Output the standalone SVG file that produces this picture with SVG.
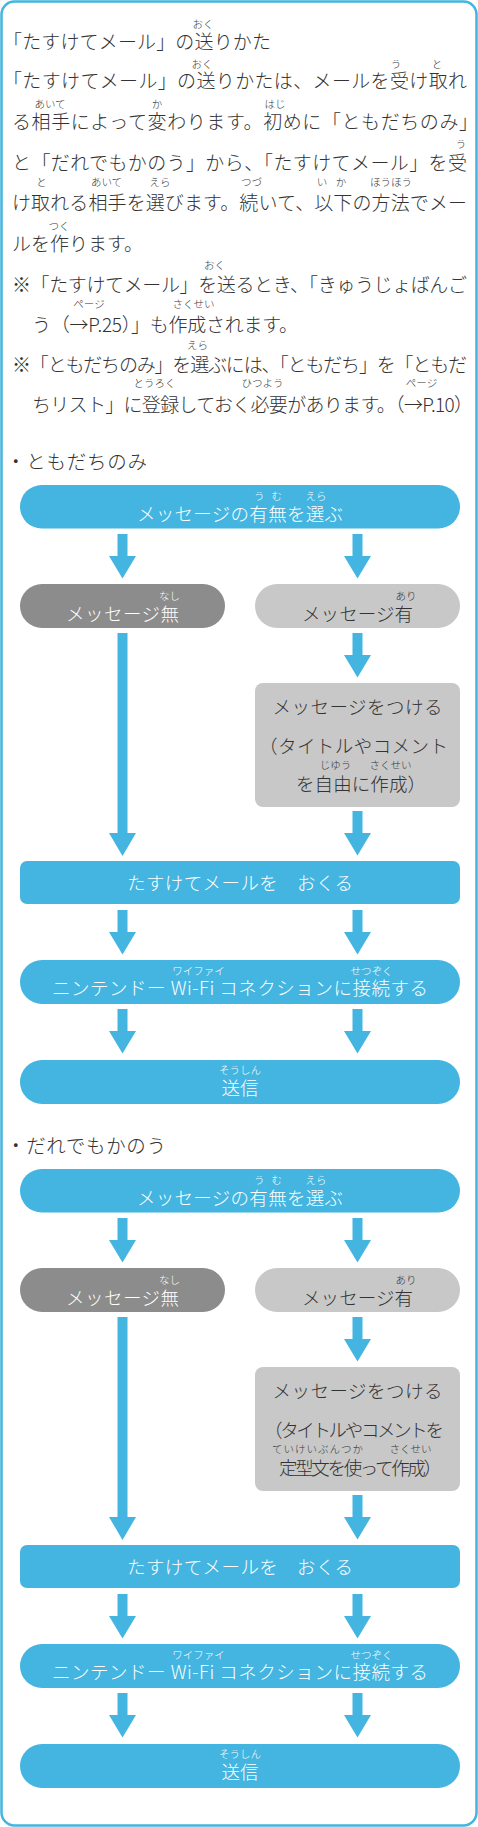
<svg xmlns="http://www.w3.org/2000/svg" width="478" height="1827" viewBox="0 0 478 1827">
<style>
text{font-family:"Noto Sans CJK JP","Noto Sans",sans-serif;font-weight:300}
.p{font-size:19px;fill:#333}
.h{font-size:19.5px;fill:#333}
.r{font-size:10.5px;fill:#333;text-anchor:middle}
.bt{font-size:18.5px;fill:#fff;text-anchor:middle}
.bd{font-size:18.5px;fill:#333;text-anchor:middle}
.bs{font-size:18.5px;fill:#333}
.rw{font-size:10.5px;fill:#fff;text-anchor:middle}
.rd{font-size:10.5px;fill:#333;text-anchor:middle}
.blue{fill:#43b5e0}
.dg{fill:#8c8c8c}
.lg{fill:#c8c8c8}
</style>
<defs>
<path id="arr" d="M-5,0 h10 v22 h8.5 l-13.5,22.5 l-13.5,-22.5 h8.5 z"/>
<path id="arrLong" d="M-5,0 h10 v200 h8.5 l-13.5,23 l-13.5,-23 h8.5 z"/>
</defs>
<rect x="1.5" y="1.5" width="475" height="1824" rx="13" fill="#fff" stroke="#43b5e0" stroke-width="2.5"/>

<g id="intro">
<text class="p" x="3" y="49" textLength="268" lengthAdjust="spacing">「たすけてメール」の送りかた</text>
<text class="r" x="203" y="28">おく</text>
<text class="p" x="3" y="88" textLength="464" lengthAdjust="spacing">「たすけてメール」の送りかたは、メールを受け取れ</text>
<text class="r" x="202" y="68">おく</text>
<text class="r" x="396" y="68">う</text>
<text class="r" x="437" y="68">と</text>
<text class="p" x="12" y="129" textLength="466" lengthAdjust="spacing">る相手によって変わります。初めに「ともだちのみ」</text>
<text class="r" x="50" y="108">あいて</text>
<text class="r" x="157" y="108">か</text>
<text class="r" x="275" y="108">はじ</text>
<text class="p" x="12" y="170" textLength="455" lengthAdjust="spacing">と「だれでもかのう」から、「たすけてメール」を受</text>
<text class="r" x="461" y="148">う</text>
<text class="p" x="12" y="210" textLength="455" lengthAdjust="spacing">け取れる相手を選びます。続いて、以下の方法でメー</text>
<text class="r" x="41.5" y="186">と</text>
<text class="r" x="106.5" y="186">あいて</text>
<text class="r" x="160" y="186">えら</text>
<text class="r" x="251.5" y="186">つづ</text>
<text class="r" x="322" y="186">い</text>
<text class="r" x="341" y="186">か</text>
<text class="r" x="391" y="186">ほうほう</text>
<text class="p" x="12" y="251">ルを作ります。</text>
<text class="r" x="59" y="230">つく</text>
<text class="p" x="12" y="292" textLength="455" lengthAdjust="spacing">※「たすけてメール」を送るとき、「きゅうじょばんご</text>
<text class="r" x="214.5" y="269">おく</text>
<text class="p" x="32" y="332" textLength="266" lengthAdjust="spacing">う（→P.25）」も作成されます。</text>
<text class="r" x="89" y="308">ページ</text>
<text class="r" x="193.5" y="308">さくせい</text>
<text class="p" x="12" y="372" textLength="455" lengthAdjust="spacing">※「ともだちのみ」を選ぶには、「ともだち」を「ともだ</text>
<text class="r" x="197.5" y="349">えら</text>
<text class="p" x="32" y="412" textLength="441" lengthAdjust="spacing">ちリスト」に登録しておく必要があります。（→P.10）</text>
<text class="r" x="154.5" y="387">とうろく</text>
<text class="r" x="262.5" y="387">ひつよう</text>
<text class="r" x="421.5" y="387">ページ</text>
</g>

<g id="connectors" fill="#43b5e0">
<use href="#arr" x="122.5" y="534"/>
<use href="#arr" x="357.5" y="534"/>
<use href="#arrLong" x="122.5" y="633"/>
<use href="#arr" x="357.5" y="633"/>
<use href="#arr" x="357.5" y="811"/>
<use href="#arr" x="122.5" y="910"/>
<use href="#arr" x="357.5" y="910"/>
<use href="#arr" x="122.5" y="1009"/>
<use href="#arr" x="357.5" y="1009"/>
<g transform="translate(0,684)">
<use href="#arr" x="122.5" y="534"/>
<use href="#arr" x="357.5" y="534"/>
<use href="#arrLong" x="122.5" y="633"/>
<use href="#arr" x="357.5" y="633"/>
<use href="#arr" x="357.5" y="811"/>
<use href="#arr" x="122.5" y="910"/>
<use href="#arr" x="357.5" y="910"/>
<use href="#arr" x="122.5" y="1009"/>
<use href="#arr" x="357.5" y="1009"/>
</g>
</g>

<g id="section1">
<text id="s1-header" class="h" x="6" y="469" textLength="141" lengthAdjust="spacing">・ともだちのみ</text>
<g id="s1-choose">
<rect class="blue" x="20" y="485" width="440" height="43.5" rx="21.75"/>
<text class="bt" x="240" y="521" textLength="206" lengthAdjust="spacing">メッセージの有無を選ぶ</text>
<text class="rw" x="268" y="500" textLength="28" lengthAdjust="spacing">うむ</text>
<text class="rw" x="316" y="500">えら</text>
</g>
<g id="s1-nomsg">
<rect class="dg" x="20" y="584" width="205" height="44" rx="22"/>
<text class="bt" x="122.5" y="620.5" textLength="113" lengthAdjust="spacing">メッセージ無</text>
<text class="rw" x="169.5" y="600">なし</text>
</g>
<g id="s1-msg">
<rect class="lg" x="255" y="584" width="205" height="44" rx="22"/>
<text class="bd" x="357.5" y="620.5" textLength="111" lengthAdjust="spacing">メッセージ有</text>
<text class="rd" x="406" y="600">あり</text>
</g>
<g id="s1-attach">
<rect class="lg" x="255" y="683" width="205" height="124" rx="8"/>
<text class="bd" x="357.5" y="714" textLength="170" lengthAdjust="spacing">メッセージをつける</text>
<text class="bs" x="259" y="753" textLength="189" lengthAdjust="spacing">（タイトルやコメント</text>
<text class="bs" x="296" y="791" textLength="130" lengthAdjust="spacing">を自由に作成）</text>
<text class="rd" x="335.5" y="769">じゆう</text>
<text class="rd" x="390.5" y="769">さくせい</text>
</g>
<g id="s1-send">
<rect class="blue" x="20" y="861" width="440" height="43" rx="7"/>
<text class="bt" x="240" y="890" textLength="226" lengthAdjust="spacing">たすけてメールを　おくる</text>
</g>
<g id="s1-wifi">
<rect class="blue" x="20" y="960" width="440" height="44" rx="22"/>
<text class="bt" x="240" y="995" textLength="376" lengthAdjust="spacing">ニンテンドー Wi-Fi コネクションに接続する</text>
<text class="rw" x="198.5" y="975">ワイファイ</text>
<text class="rw" x="371.5" y="975">せつぞく</text>
</g>
<g id="s1-transmit">
<rect class="blue" x="20" y="1060" width="440" height="44" rx="22"/>
<text class="bt" x="240" y="1095">送信</text>
<text class="rw" x="240" y="1074">そうしん</text>
</g>
</g>

<g id="section2" transform="translate(0,684)">
<text id="s2-header" class="h" x="6" y="469" textLength="160" lengthAdjust="spacing">・だれでもかのう</text>
<g id="s2-choose">
<rect class="blue" x="20" y="485" width="440" height="43.5" rx="21.75"/>
<text class="bt" x="240" y="521" textLength="206" lengthAdjust="spacing">メッセージの有無を選ぶ</text>
<text class="rw" x="268" y="500" textLength="28" lengthAdjust="spacing">うむ</text>
<text class="rw" x="316" y="500">えら</text>
</g>
<g id="s2-nomsg">
<rect class="dg" x="20" y="584" width="205" height="44" rx="22"/>
<text class="bt" x="122.5" y="620.5" textLength="113" lengthAdjust="spacing">メッセージ無</text>
<text class="rw" x="169.5" y="600">なし</text>
</g>
<g id="s2-msg">
<rect class="lg" x="255" y="584" width="205" height="44" rx="22"/>
<text class="bd" x="357.5" y="620.5" textLength="111" lengthAdjust="spacing">メッセージ有</text>
<text class="rd" x="406" y="600">あり</text>
</g>
<g id="s2-attach">
<rect class="lg" x="255" y="683" width="205" height="124" rx="8"/>
<text class="bd" x="357.5" y="714" textLength="170" lengthAdjust="spacing">メッセージをつける</text>
<text class="bs" x="264" y="753" textLength="180" lengthAdjust="spacing">（タイトルやコメントを</text>
<text class="bs" x="279" y="791" textLength="163" lengthAdjust="spacing">定型文を使って作成）</text>
<text class="rd" x="317.5" y="769" textLength="91" lengthAdjust="spacing">ていけいぶんつか</text>
<text class="rd" x="410.5" y="769">さくせい</text>
</g>
<g id="s2-send">
<rect class="blue" x="20" y="861" width="440" height="43" rx="7"/>
<text class="bt" x="240" y="890" textLength="226" lengthAdjust="spacing">たすけてメールを　おくる</text>
</g>
<g id="s2-wifi">
<rect class="blue" x="20" y="960" width="440" height="44" rx="22"/>
<text class="bt" x="240" y="995" textLength="376" lengthAdjust="spacing">ニンテンドー Wi-Fi コネクションに接続する</text>
<text class="rw" x="198.5" y="975">ワイファイ</text>
<text class="rw" x="371.5" y="975">せつぞく</text>
</g>
<g id="s2-transmit">
<rect class="blue" x="20" y="1060" width="440" height="44" rx="22"/>
<text class="bt" x="240" y="1095">送信</text>
<text class="rw" x="240" y="1074">そうしん</text>
</g>
</g>
</svg>
